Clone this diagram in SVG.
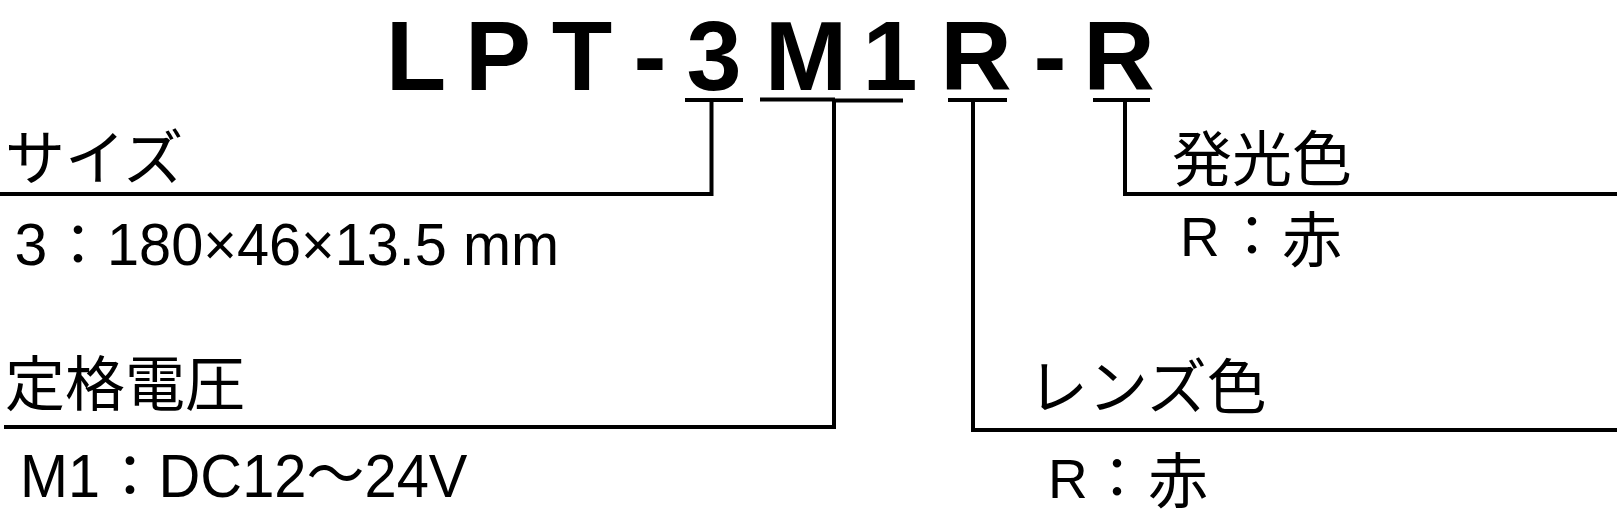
<svg xmlns="http://www.w3.org/2000/svg" width="1617" height="530" viewBox="0 0 1617 530">
<style>
  .ttl { font-family: "Liberation Sans", Arial, sans-serif; font-weight: bold; font-size: 99px; fill: #000; text-anchor: middle; }
  .jp { font-family: "Noto Sans CJK JP", sans-serif; font-size: 60px; fill: #000; }
  .lat { font-family: "Liberation Sans", "Noto Sans CJK JP", sans-serif; fill: #000; }
  .mid { text-anchor: middle; }
  .col { font-family: "Noto Sans CJK JP", sans-serif; fill: #000; text-anchor: middle; }
  .ln { stroke: #000; stroke-width: 4; fill: none; }
</style>
<rect width="1617" height="530" fill="#fff"/>

<g id="title">
  <text class="ttl" y="90" x="416">L</text>
  <text class="ttl" y="90" x="498">P</text>
  <text class="ttl" y="90" x="582">T</text>
  <text class="ttl" y="90" x="650">-</text>
  <text class="ttl" y="90" x="714">3</text>
  <text class="ttl" y="90" x="806">M</text>
  <text class="ttl" y="90" x="890">1</text>
  <text class="ttl" y="90" x="976">R</text>
  <text class="ttl" y="90" x="1050">-</text>
  <text class="ttl" y="90" x="1119">R</text>
</g>

<g id="connectors">
  <line class="ln" x1="685" y1="100" x2="743" y2="100"/>
  <line class="ln" x1="760" y1="99.5" x2="835" y2="99.5"/>
  <line class="ln" x1="835" y1="100.5" x2="903" y2="100.5"/>
  <line class="ln" x1="948" y1="100" x2="1007" y2="100"/>
  <line class="ln" x1="1093" y1="100" x2="1150" y2="100"/>
  <path class="ln" d="M711.5 100 V194 H0"/>
  <path class="ln" d="M834 100 V427 H4"/>
  <path class="ln" d="M973 100 V430 H1617"/>
  <path class="ln" d="M1125 100 V194 H1617"/>
</g>

<g id="size">
  <text class="jp" x="5" y="180">サイズ</text>
  <text class="lat mid" font-size="59" y="265" x="31">3</text>
  <text class="col" font-size="57" y="265" x="78">：</text>
  <text class="lat" font-size="59" y="265" x="107" textLength="452" lengthAdjust="spacingAndGlyphs">180×46×13.5 mm</text>
</g>

<g id="voltage">
  <text class="jp" x="5" y="406">定格電圧</text>
  <text class="lat" font-size="62" y="497" x="20" textLength="80" lengthAdjust="spacingAndGlyphs">M1</text>
  <text class="col" font-size="58" y="497" x="130">：</text>
  <text class="lat" font-size="62" y="497" x="158.5" textLength="309" lengthAdjust="spacingAndGlyphs">DC12～24V</text>
</g>

<g id="emit-color">
  <text class="jp" x="1172" y="181">発光色</text>
  <text class="lat" font-size="55" y="256" x="1180">R</text>
  <text class="col" font-size="56" y="256" x="1252">：</text>
  <text class="jp mid" font-size="58" y="262" x="1312">赤</text>
</g>

<g id="lens-color">
  <text class="jp" x="1028" y="409">レンズ色</text>
  <text class="lat" font-size="55" y="498" x="1048">R</text>
  <text class="col" font-size="56" y="498" x="1117">：</text>
  <text class="jp mid" font-size="56" y="503" x="1178">赤</text>
</g>
</svg>
